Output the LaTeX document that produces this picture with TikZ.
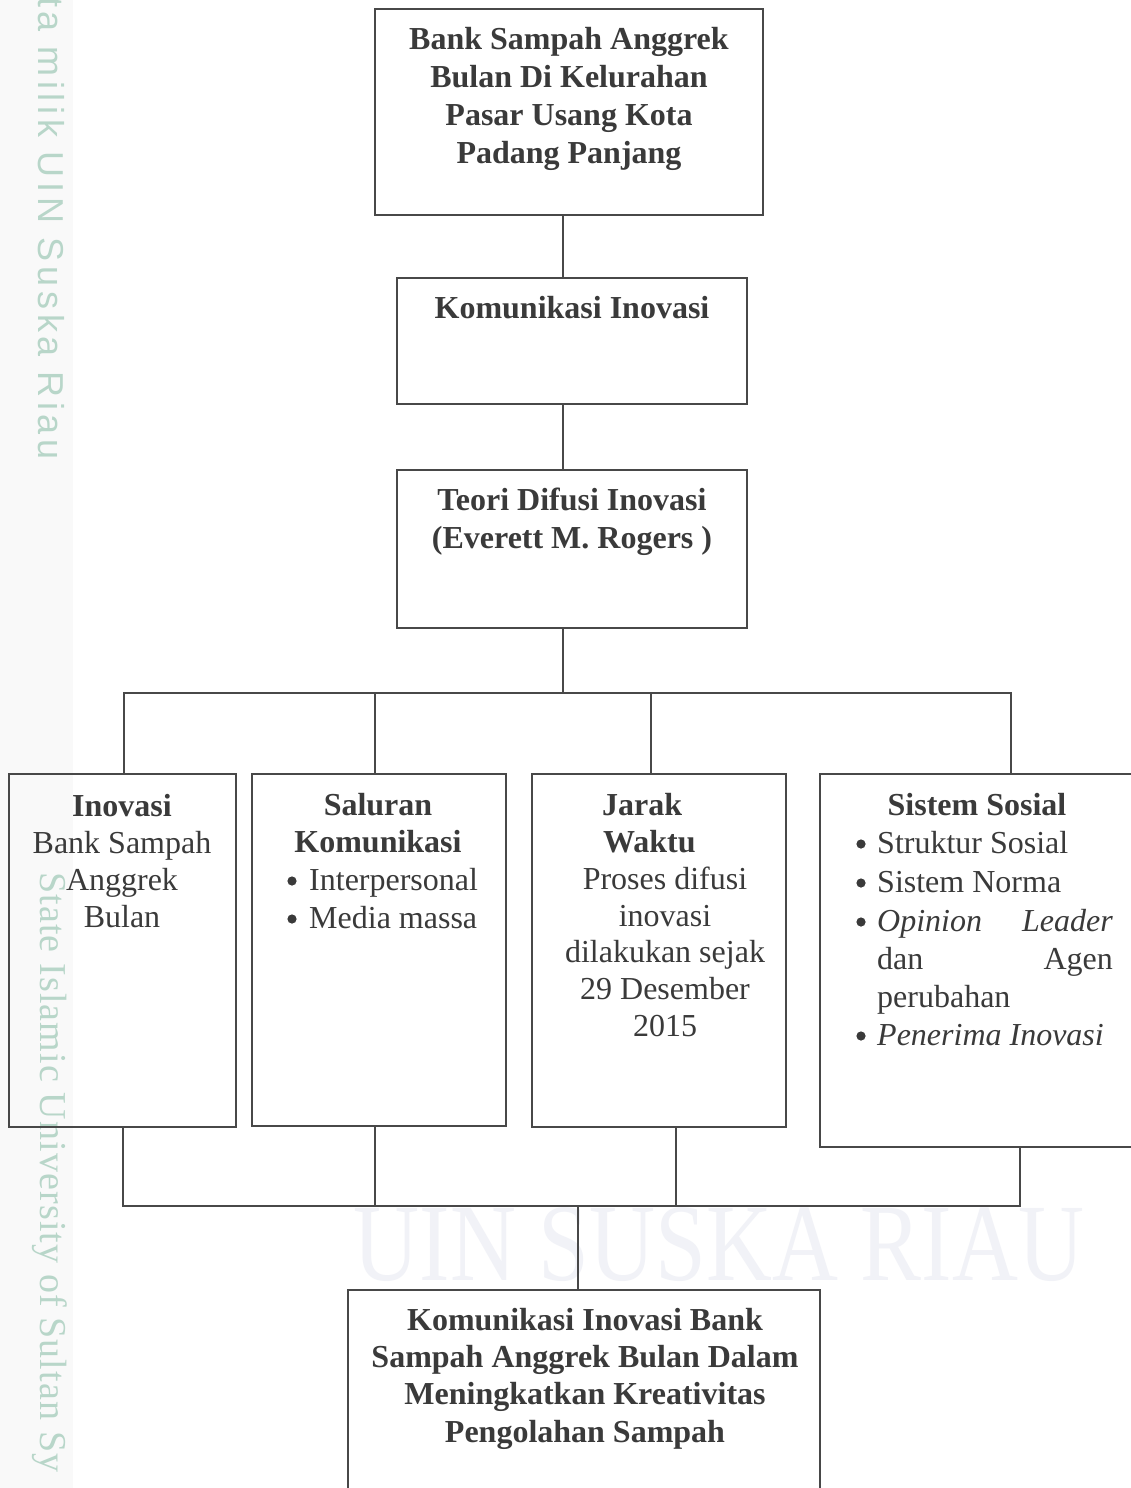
\documentclass[tikz,border=0pt]{standalone}
\usepackage{fontspec}
\setmainfont{Liberation Serif}
\newfontfamily\wmsans[LetterSpace=13]{Liberation Sans}
\newfontfamily\wmserif[LetterSpace=3]{Liberation Serif}
\definecolor{ink}{RGB}{58,58,58}
\definecolor{edge}{RGB}{72,72,72}
\definecolor{wmteal}{RGB}{184,214,201}
\definecolor{wmfaint}{RGB}{241,242,247}
\definecolor{strip}{RGB}{249,249,249}
\begin{document}
\begin{tikzpicture}[x=1pt,y=-1pt,
  box/.style={draw=edge,line width=1.8pt,inner sep=0pt,outer sep=0pt,anchor=north west},
  conn/.style={draw=edge,line width=1.5pt},
  bulletdot/.style={fill=ink},
  txt/.style={text=ink,inner sep=0pt,anchor=base,font=\fontsize{32}{38}\selectfont},
  txtw/.style={txt,anchor=base west},
  txte/.style={txt,anchor=base east},
  bold/.style={txt,font=\fontsize{32}{38}\selectfont\bfseries},
  boldw/.style={bold,anchor=base west}]
\useasboundingbox (0,0) rectangle (1131,1488);
\fill[white] (0,0) rectangle (1131,1488);
\fill[strip] (0,0) rectangle (73,1488);
% watermark texts
\node[inner sep=0pt,anchor=base,text=wmfaint,font=\fontsize{110}{120}\selectfont,xscale=0.83] (wmc) at (719,1280) {UIN SUSKA RIAU};
\node[inner sep=0pt,anchor=base west,rotate=-90,text=wmteal,font=\wmsans\fontsize{36}{40}\selectfont] (wma) at (38,-3) {ta milik UIN Suska Riau};
\node[inner sep=0pt,anchor=base west,rotate=-90,text=wmteal,font=\wmserif\fontsize{38}{42}\selectfont] (wmb) at (40,872) {State Islamic University of Sultan Sy};
% boxes
\node[box,minimum width=388pt,minimum height=206pt] (top) at (375,9) {};
\node[box,minimum width=350pt,minimum height=126pt] (kom) at (397,278) {};
\node[box,minimum width=350pt,minimum height=158pt] (teo) at (397,470) {};
\node[box,minimum width=227pt,minimum height=353pt] (ino) at (9,774) {};
\node[box,minimum width=254pt,minimum height=352pt] (sal) at (252,774) {};
\node[box,minimum width=254pt,minimum height=353pt] (jar) at (532,774) {};
\node[box,minimum width=315pt,minimum height=373pt] (sis) at (820,774) {};
\node[box,minimum width=472pt,minimum height=230pt] (fin) at (348,1290) {};
% guide coordinates
\coordinate (xA) at (563,0);
\coordinate (busT) at (0,693);
\coordinate (x1) at (124,0);
\coordinate (x2) at (375,0);
\coordinate (x3) at (651,0);
\coordinate (x4) at (1011,0);
\coordinate (busB) at (0,1206);
\coordinate (y1) at (123,0);
\coordinate (y2) at (375,0);
\coordinate (y3) at (676,0);
\coordinate (y4) at (1020,0);
\coordinate (ym) at (578,0);
% connectors
\draw[conn] (top.south -| xA) -- (kom.north -| xA);
\draw[conn] (kom.south -| xA) -- (teo.north -| xA);
\draw[conn] (teo.south -| xA) -- (busT -| xA);
\draw[conn] (ino.north -| x1) -- (busT -| x1) -- (busT -| x4) -- (sis.north -| x4);
\draw[conn] (busT -| x2) -- (sal.north -| x2);
\draw[conn] (busT -| x3) -- (jar.north -| x3);
\draw[conn] (ino.south -| y1) -- (busB -| y1) -- (busB -| y4) -- (sis.south -| y4);
\draw[conn] (sal.south -| y2) -- (busB -| y2);
\draw[conn] (jar.south -| y3) -- (busB -| y3);
\draw[conn] (busB -| ym) -- (fin.north -| ym);
% top box text
\node[bold] (t1) at (569,49) {Bank Sampah Anggrek};
\node[bold] (t2) at (569,87) {Bulan Di Kelurahan};
\node[bold] (t3) at (569,125) {Pasar Usang Kota};
\node[bold] (t4) at (569,163) {Padang Panjang};
\node[bold] (k1) at (572,318) {Komunikasi Inovasi};
\node[bold] (e1) at (572,510) {Teori Difusi Inovasi};
\node[bold] (e2) at (572,548) {(Everett M. Rogers )};
% Inovasi
\node[bold] (i1) at (122,816) {Inovasi};
\node[txt] (i2) at (122,853) {Bank Sampah};
\node[txt] (i3) at (122,890) {Anggrek};
\node[txt] (i4) at (122,927) {Bulan};
% Saluran
\node[bold] (a1) at (378,815) {Saluran};
\node[bold] (a2) at (378,852) {Komunikasi};
\fill[bulletdot] (292,881) circle (4.6pt);
\node[txtw] (a3) at (309,890) {Interpersonal};
\fill[bulletdot] (292,919) circle (4.6pt);
\node[txtw] (a4) at (309,928) {Media massa};
% Jarak
\node[boldw] (j1) at (602,815) {Jarak};
\node[boldw] (j2) at (603,852) {Waktu};
\node[txt] (j3) at (665,889) {Proses difusi};
\node[txt] (j4) at (665,926) {inovasi};
\node[txt] (j5) at (665,962) {dilakukan sejak};
\node[txt] (j6) at (665,999) {29 Desember};
\node[txt] (j7) at (665,1036) {2015};
% Sistem
\node[bold] (o0) at (977,815) {Sistem Sosial};
\fill[bulletdot] (861,844) circle (4.6pt);
\node[txtw] (o1) at (877,853) {Struktur Sosial};
\fill[bulletdot] (861,883) circle (4.6pt);
\node[txtw] (o2) at (877,892) {Sistem Norma};
\fill[bulletdot] (861,922) circle (4.6pt);
\node[txtw] (o3) at (877,931) {\textit{Opinion}};
\node[txte] (o3b) at (1113,931) {\textit{Leader}};
\node[txtw] (o4) at (877,969) {dan};
\node[txte] (o4b) at (1113,969) {Agen};
\node[txtw] (o5) at (877,1007) {perubahan};
\fill[bulletdot] (861,1036) circle (4.6pt);
\node[txtw] (o6) at (877,1045) {\textit{Penerima Inovasi}};
% final box
\node[bold] (f1) at (585,1330) {Komunikasi Inovasi Bank};
\node[bold] (f2) at (585,1367) {Sampah Anggrek Bulan Dalam};
\node[bold] (f3) at (585,1404) {Meningkatkan Kreativitas};
\node[bold] (f4) at (585,1442) {Pengolahan Sampah};
\end{tikzpicture}
\end{document}
